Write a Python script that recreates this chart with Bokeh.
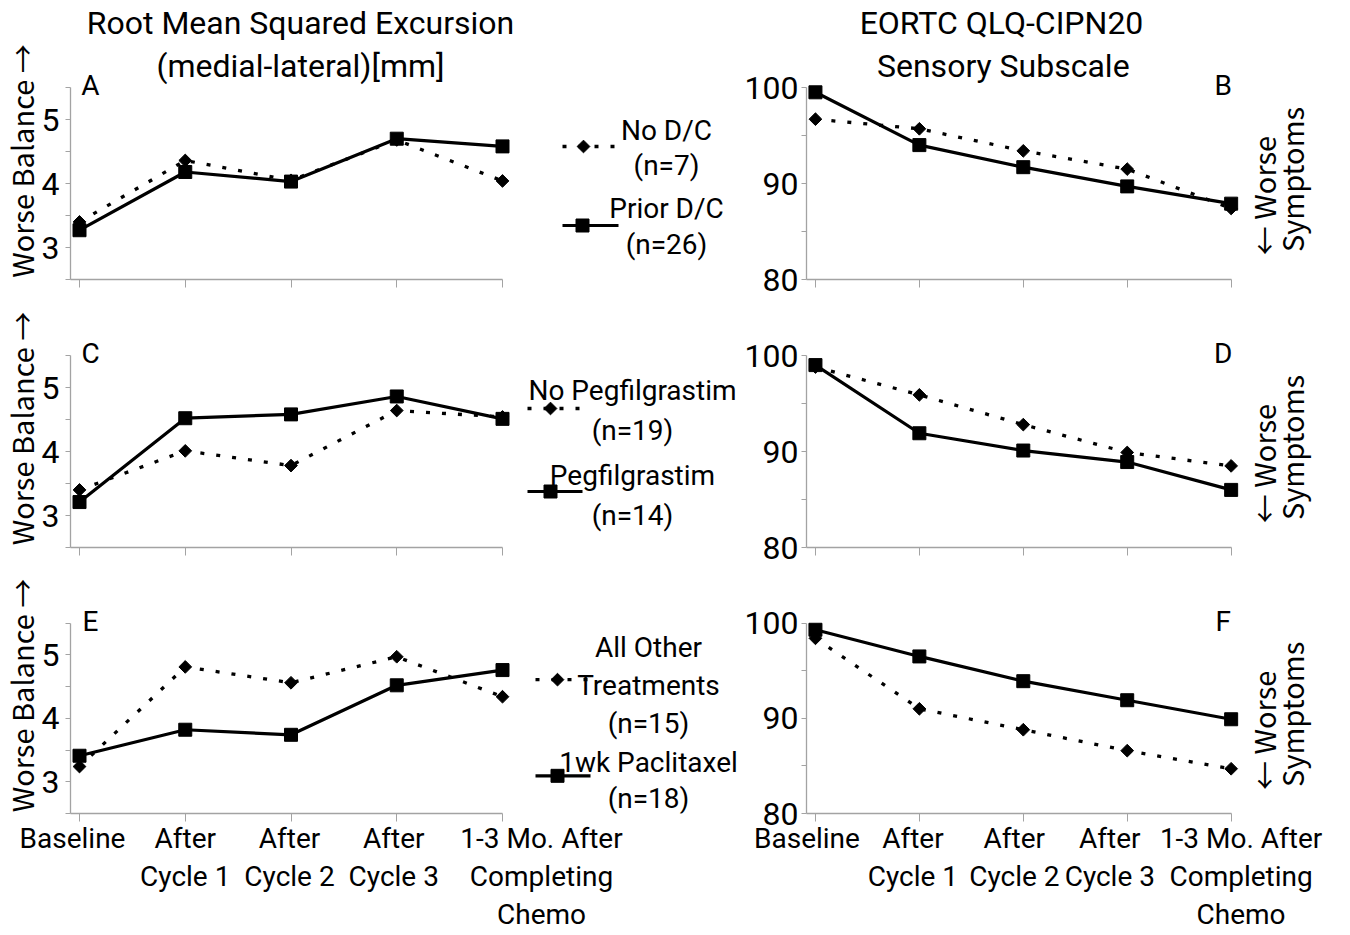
import math
from bokeh.plotting import figure
from bokeh.models import Range1d, FixedTicker, Label, Title, LinearAxis
from bokeh.layouts import row, column
from bokeh.embed import file_html
from bokeh.resources import INLINE

# ---------------- data ----------------
categories = ["Baseline", "After Cycle 1", "After Cycle 2", "After Cycle 3",
              "1-3 Mo. After Completing Chemo"]
category_lines = [["Baseline"], ["After", "Cycle 1"], ["After", "Cycle 2"],
                  ["After", "Cycle 3"], ["1-3 Mo. After", "Completing", "Chemo"]]

sway_title = ["Root Mean Squared Excursion", "(medial-lateral)[mm]"]
cipn_title = ["EORTC QLQ-CIPN20", "Sensory Subscale"]
sway_axis_label = "Worse Balance \u2192"
cipn_axis_label = ["\u2190 Worse", "Symptoms"]

sway_ticks = [3, 4, 5]
sway_minor_ticks = [2.5, 3.5, 4.5, 5.5]
sway_bounds = (2.5, 5.5)
cipn_ticks = [80, 90, 100]
cipn_minor_ticks = [85, 95]
cipn_bounds = (80, 100)

panel_letters = [["A", "B"], ["C", "D"], ["E", "F"]]

# Row 1: prior docetaxel/carboplatin
dc_labels = [["No D/C", "(n=7)"], ["Prior D/C", "(n=26)"]]
dc_no_sway = [3.40, 4.36, 4.05, 4.68, 4.04]
dc_prior_sway = [3.27, 4.18, 4.03, 4.70, 4.58]
dc_no_cipn = [96.7, 95.7, 93.4, 91.5, 87.4]
dc_prior_cipn = [99.5, 94.0, 91.7, 89.7, 87.9]

# Row 2: pegfilgrastim
peg_labels = [["No Pegfilgrastim", "(n=19)"], ["Pegfilgrastim", "(n=14)"]]
peg_no_sway = [3.40, 4.01, 3.78, 4.64, 4.54]
peg_yes_sway = [3.21, 4.52, 4.58, 4.86, 4.51]
peg_no_cipn = [98.8, 95.9, 92.8, 89.9, 88.5]
peg_yes_cipn = [99.0, 91.9, 90.1, 88.9, 86.0]

# Row 3: weekly paclitaxel
pac_labels = [["All Other", "Treatments", "(n=15)"], ["1wk Paclitaxel", "(n=18)"]]
pac_other_sway = [3.24, 4.81, 4.56, 4.97, 4.34]
pac_weekly_sway = [3.41, 3.82, 3.74, 4.52, 4.76]
pac_other_cipn = [98.4, 91.0, 88.8, 86.6, 84.7]
pac_weekly_cipn = [99.3, 96.5, 93.9, 91.9, 89.9]

rows_data = [
    (dc_labels, dc_no_sway, dc_prior_sway, dc_no_cipn, dc_prior_cipn),
    (peg_labels, peg_no_sway, peg_yes_sway, peg_no_cipn, peg_yes_cipn),
    (pac_labels, pac_other_sway, pac_weekly_sway, pac_other_cipn, pac_weekly_cipn),
]

# ---------------- style / geometry (pixels) ----------------
FONT = "Roboto"
SIDE_FONT = "Noto Sans CJK SC"   # full-size arrows for the side labels
INK = "#000000"
AXIS_GREY = "#a3a3a3"
TICK_FS, TEXT_FS, TITLE_FS, SIDE_FS = "32px", "28px", "32px", "29px"
CAT_LINE_HEIGHT = 1.16

LEFT_W, RIGHT_W = 741, 605
TITLE_STRIP_H = 42
ROW_CANVAS = [(42, 309), (309, 577), (577, 934)]
AXIS_TOP = [87, 355, 623]
AXIS_BOTTOM = [279, 547, 815]
AXIS_H = 192
BORDER_L = {"sway": 70, "cipn": 62}
PX_PER_CAT = {"sway": 105.75, "cipn": 104.5}
PAD_X0 = 9
NCAT = len(categories)
YTITLE_STANDOFF = -6

# legend layout (px relative to last category tick / top of value axis)
LEGEND_GEOM = [
    dict(samples=[(60, 113, 81, 59), (60, 116, 80, 138)], text_dx=164,
         text_dy=[[43, 78], [121, 157]]),
    dict(samples=[(25, 78, 48, 53), (25, 80, 48, 136)], text_dx=130,
         text_dy=[[35, 75], [120, 160]]),
    dict(samples=[(33, 86, 55, 57), (33, 88, 55, 154)], text_dx=146,
         text_dy=[[24, 62, 100], [139, 175]]),
]
CAT_DX = {"sway": [-7, 0, -1.5, -3, 39], "cipn": [-8.5, -6.5, -9, -17.5, 10]}

DOT = dict(line_color=INK, line_width=3.3, line_dash="4 12")
SOLID = dict(line_color=INK, line_width=3.2)
DIAMOND = dict(marker="square", angle=math.pi / 4, size=9, color=INK)
SQUARE = dict(marker="square", size=13, color=INK)


def add_label(p, text, x, y, dx=0, dy=0, size=TEXT_FS, angle=0.0, align="center",
              font=FONT):
    p.add_layout(Label(x=x, y=y, x_offset=dx, y_offset=dy, text=text,
                       text_font=font, text_font_size=size, text_color=INK,
                       text_align=align, text_baseline="middle", angle=angle))


def blank_figure(width, height, x_range, y_range, **borders):
    p = figure(width=width, height=height, x_range=x_range, y_range=y_range,
               toolbar_location=None, tools="", output_backend="svg", title=None,
               **borders)
    p.outline_line_color = None
    p.background_fill_color = "white"
    p.border_fill_color = "white"
    return p


def make_panel(kind, r, dotted_vals, solid_vals):
    unit = PX_PER_CAT[kind]
    width = LEFT_W if kind == "sway" else RIGHT_W
    ctop, cbot = ROW_CANVAS[r]
    lo, hi = sway_bounds if kind == "sway" else cipn_bounds
    ppu = AXIS_H / (hi - lo)
    x0 = -PAD_X0 / unit
    x1 = x0 + (width - BORDER_L[kind]) / unit
    y1 = hi + (AXIS_TOP[r] - ctop) / ppu
    p = blank_figure(width, cbot - ctop, Range1d(x0, x1), Range1d(lo, y1),
                     min_border_left=BORDER_L[kind], min_border_right=0,
                     min_border_top=0, min_border_bottom=cbot - AXIS_BOTTOM[r])
    p.grid.visible = False

    p.axis.axis_line_color = AXIS_GREY
    p.axis.axis_line_width = 1.3
    p.axis.major_tick_line_color = AXIS_GREY
    p.axis.minor_tick_line_color = AXIS_GREY
    p.axis.major_tick_in = 0
    p.axis.minor_tick_in = 0

    p.xaxis.ticker = FixedTicker(ticks=list(range(NCAT)), minor_ticks=[])
    p.xaxis.bounds = (x0, NCAT - 1)
    p.xaxis.major_tick_out = 8
    p.xaxis.major_label_overrides = {i: "" for i in range(NCAT)}
    p.xaxis.major_label_text_font_size = "1px"
    p.xaxis.major_label_standoff = 0

    if kind == "sway":
        p.yaxis.ticker = FixedTicker(ticks=sway_ticks, minor_ticks=sway_minor_ticks)
        p.yaxis.major_label_standoff = 6
    else:
        p.yaxis.ticker = FixedTicker(ticks=cipn_ticks, minor_ticks=cipn_minor_ticks)
        p.yaxis.major_label_standoff = 3
    p.yaxis.bounds = (lo, hi)
    p.yaxis.major_tick_out = 5
    p.yaxis.minor_tick_out = 5
    p.yaxis.major_label_text_font = FONT
    p.yaxis.major_label_text_font_size = TICK_FS
    p.yaxis.major_label_text_color = INK

    xs = list(range(NCAT))
    p.line(xs, dotted_vals, **DOT)
    p.scatter(xs, dotted_vals, **DIAMOND)
    p.line(xs, solid_vals, **SOLID)
    p.scatter(xs, solid_vals, **SQUARE)
    return p


def add_category_axis(p, kind):
    """Second, line-less bottom axis that carries the wrapped category names."""
    unit = PX_PER_CAT[kind]
    pos = [i + CAT_DX[kind][i] / unit for i in range(NCAT)]
    ax = LinearAxis(ticker=FixedTicker(ticks=pos, minor_ticks=[]),
                    major_label_overrides={t: "\n".join(lines)
                                           for t, lines in zip(pos, category_lines)},
                    axis_line_color=None, major_tick_line_color=None,
                    minor_tick_line_color=None, major_tick_out=0, major_tick_in=0,
                    minor_tick_out=0, minor_tick_in=0, major_label_standoff=0,
                    major_label_text_font=FONT, major_label_text_font_size=TEXT_FS,
                    major_label_text_color=INK,
                    major_label_text_line_height=CAT_LINE_HEIGHT)
    p.add_layout(ax, "below")


def decorate_sway(p, r, labels):
    lo, hi = sway_bounds
    ppu = AXIS_H / (hi - lo)
    last = NCAT - 1
    unit = PX_PER_CAT["sway"]
    p.add_layout(Title(text=sway_axis_label, align="center", standoff=YTITLE_STANDOFF,
                       text_font=SIDE_FONT, text_font_size=SIDE_FS,
                       text_font_style="normal", text_color=INK), "left")
    add_label(p, panel_letters[r][0], 0, hi, dx=11, dy=2)
    g = LEGEND_GEOM[r]
    for k, (xa, xb, xm, dy) in enumerate(g["samples"]):
        yy = hi - dy / ppu
        style = DOT if k == 0 else SOLID
        mk = DIAMOND if k == 0 else SQUARE
        p.line([last + xa / unit, last + xb / unit], [yy, yy], **style)
        p.scatter([last + xm / unit], [yy], **mk)
        for text, tdy in zip(labels[k], g["text_dy"][k]):
            add_label(p, text, last, hi, dx=g["text_dx"], dy=-tdy)
    if r == 0:
        add_label(p, sway_title[1], 2, hi, dx=9.5, dy=22, size=TITLE_FS)


def decorate_cipn(p, r):
    lo, hi = cipn_bounds
    last = NCAT - 1
    add_label(p, panel_letters[r][1], last, hi, dx=-8, dy=2)
    add_label(p, cipn_axis_label[0], last, 90, dx=32, dy=-12, angle=math.pi / 2,
              size=SIDE_FS, font=SIDE_FONT)
    add_label(p, cipn_axis_label[1], last, 90, dx=60, dy=4, angle=math.pi / 2,
              size=SIDE_FS, font=SIDE_FONT)
    if r == 0:
        add_label(p, cipn_title[1], 2, hi, dx=-20, dy=22, size=TITLE_FS)


def title_strip(kind, text, dx):
    unit = PX_PER_CAT[kind]
    width = LEFT_W if kind == "sway" else RIGHT_W
    x0 = -(BORDER_L[kind] + PAD_X0) / unit
    p = blank_figure(width, TITLE_STRIP_H, Range1d(x0, x0 + width / unit),
                     Range1d(-TITLE_STRIP_H, 0), min_border_left=0, min_border_right=0,
                     min_border_top=0, min_border_bottom=0,
                     x_axis_location=None, y_axis_location=None)
    p.grid.visible = False
    add_label(p, text, 2, -22, dx=dx, size=TITLE_FS)
    return p


rows = [row(title_strip("sway", sway_title[0], 9.5),
            title_strip("cipn", cipn_title[0], -20), spacing=0)]
for r, (labels, dot_sway, solid_sway, dot_cipn, solid_cipn) in enumerate(rows_data):
    pl = make_panel("sway", r, dot_sway, solid_sway)
    decorate_sway(pl, r, labels)
    pr = make_panel("cipn", r, dot_cipn, solid_cipn)
    decorate_cipn(pr, r)
    if r == len(rows_data) - 1:
        add_category_axis(pl, "sway")
        add_category_axis(pr, "cipn")
    rows.append(row(pl, pr, spacing=0))

layout = column(*rows, spacing=0)
open("out.html", "w").write(file_html(layout, INLINE, title="Balance and CIPN"))
